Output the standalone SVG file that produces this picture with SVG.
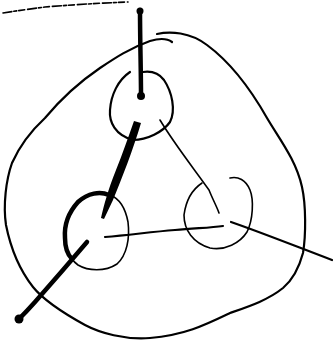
<svg xmlns="http://www.w3.org/2000/svg" width="336" height="341" viewBox="0 0 336 341">
<style>
.ink{fill:none;stroke:#000;stroke-linecap:round;stroke-linejoin:round}
.thin{stroke-width:1.6}
.med{stroke-width:2.2}
.thick{stroke-width:4.5}
.dot{fill:#000}
</style>
<rect width="336" height="341" fill="#fff"/>
<g id="frame">
<path class="ink med" d="M157,34 C170,31 190,32 207,45 C230,62 250,88 267,118 C280,140 296,160 302,187 C306,205 306,235 303,253 C298,272 290,282 283,288 C268,300 250,306 230,313 C205,325 185,335 150,338 C125,340 100,333 85,325 C65,314 45,302 33,287 C22,273 12,255 6,225 C3,205 6,180 12,163 C20,145 32,130 45,118 C60,100 75,85 100,68 C115,58 130,48 150,41 C160,38 168,39 172,42"/>
<path class="ink thin" stroke-dasharray="9,2,3,2,6,3" d="M3,13 C15,11 30,9 45,7 C70,5 100,3 128,2"/>
</g>
<g id="node-top">
<path class="ink med" d="M130,72 C118,80 111,95 110,110 C109,122 115,135 133,140 C147,140 163,132 170,122 C176,110 172,92 164,80 C158,72 150,71 143,72"/>
</g>
<g id="node-left">
<path class="ink thick" d="M109,195 C100,191 88,193 78,202 C69,212 64,225 65,238 C65,248 68,255 72,259"/>
<path class="ink thin" d="M110,195 C118,198 125,206 128,222 C130,238 127,255 117,264 C105,272 88,271 78,265 C74,262 72,259 72,259"/>
</g>
<g id="node-right">
<path class="ink thin" d="M202,183 C193,189 186,200 184,215 C184,230 193,243 210,248 C225,251 240,243 247,232 C253,220 254,200 250,190 C246,180 238,176 230,178"/>
</g>
<g id="connectors">
<path class="ink thick" d="M140,10 C140,40 141,70 141,96"/>
<circle class="dot" cx="140" cy="11" r="3.5"/>
<circle class="dot" cx="141" cy="96" r="4"/>
<path class="dot" d="M134,121 L141,123 C133,150 122,178 113,200 L104,219 L101,218 C104,205 108,190 116,170 C122,155 128,138 134,121 Z"/>
<path class="ink thin" d="M160,120 C175,145 195,170 209,190 C213,200 217,207 219,213"/>
<path class="ink med" d="M105,237 C130,235 150,232 175,230 C195,228 210,228 223,226"/>
<path class="ink med" d="M231,222 C260,232 290,244 332,260"/>
<path class="ink thick" d="M87,242 C70,262 50,285 35,302 C27,311 22,316 18,320"/>
<circle class="dot" cx="19" cy="319" r="4.5"/>
</g>
</svg>
